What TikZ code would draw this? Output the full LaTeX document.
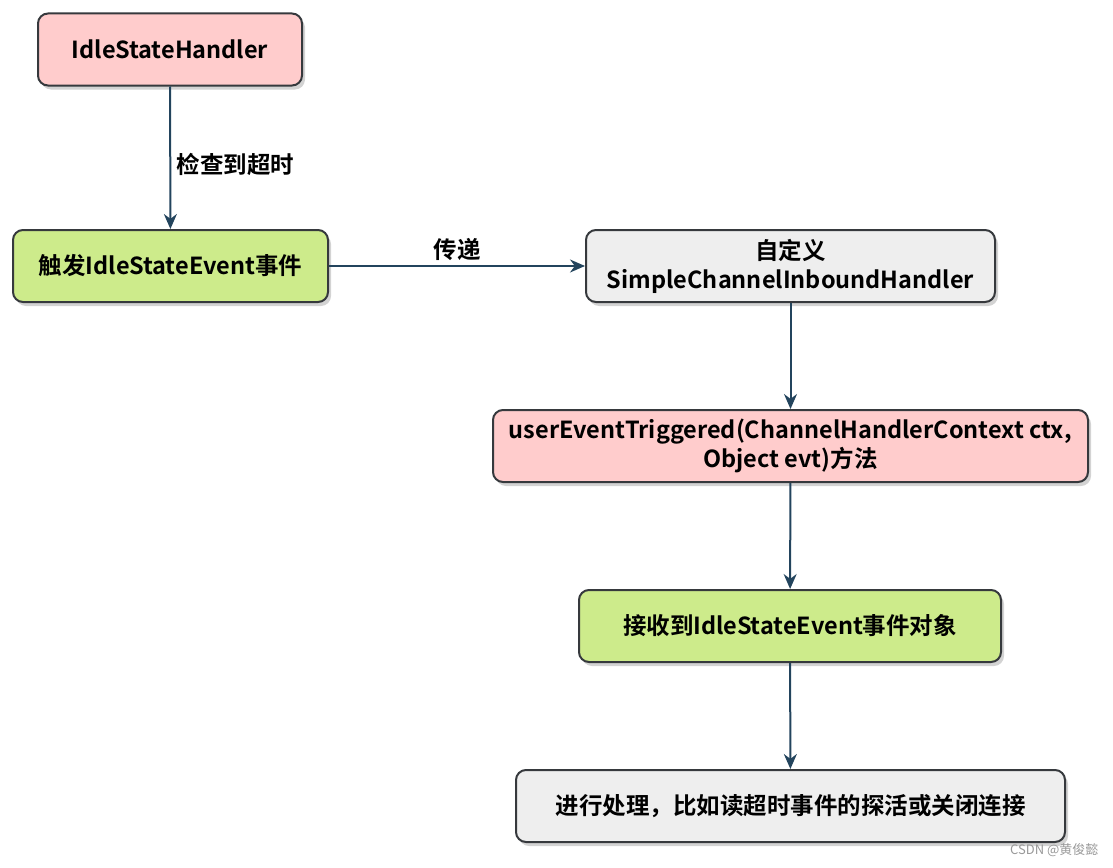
\documentclass[tikz,border=0pt]{standalone}
\usepackage{fontspec}
\setmainfont{Noto Sans CJK SC}[BoldFont={Noto Sans CJK SC Bold}]
\usetikzlibrary{shadows,arrows.meta}
\definecolor{pinkfill}{HTML}{FFCCCC}
\definecolor{greenfill}{HTML}{CDEB8B}
\definecolor{grayfill}{HTML}{EEEEEE}
\definecolor{boxline}{HTML}{36393D}
\definecolor{arrowcol}{HTML}{23445D}
\begin{document}
\begin{tikzpicture}[x=1pt,y=-1pt,
  box/.style={draw=boxline, line width=2pt, rounded corners=10pt, minimum height=72pt,
    align=center, inner sep=0pt, font=\fontsize{23.5}{29}\selectfont\bfseries,
    drop shadow={opacity=0.35, shadow xshift=3pt, shadow yshift=-4pt}},
  conn/.style={draw=arrowcol, line width=2pt, -{Stealth[length=15pt,width=13pt]}},
  lbl/.style={font=\fontsize{23.5}{27}\selectfont\bfseries, text=black}]
\useasboundingbox (0,0) rectangle (1113,867);
\node[box, fill=pinkfill, minimum width=264pt] (a) at (170,49.5) {IdleStateHandler};
\node[box, fill=greenfill, minimum width=315pt] (b) at (170.5,266) {触发IdleStateEvent事件};
\node[box, fill=grayfill, minimum width=409pt] (c) at (790.5,266) {自定义\\SimpleChannelInboundHandler};
\node[box, fill=pinkfill, minimum width=595pt] (d) at (790.5,446) {userEventTriggered(ChannelHandlerContext ctx,\\Object evt)方法};
\node[box, fill=greenfill, minimum width=422pt] (e) at (790,626) {接收到IdleStateEvent事件对象};
\node[box, fill=grayfill, minimum width=549pt] (f) at (790.5,806) {进行处理，比如读超时事件的探活或关闭连接};
\draw[conn] (a) -- node[lbl, right=2pt, pos=0.55] {检查到超时} (b);
\draw[conn] (b) -- node[lbl, above=1pt] {传递} (c);
\draw[conn] (c) -- (d);
\draw[conn] (d) -- (e);
\draw[conn] (e) -- (f);
\node[font=\fontsize{13}{15}\selectfont, text=black!40, anchor=east] (w) at (1102,850) {CSDN @黄俊懿};
\end{tikzpicture}
\end{document}
